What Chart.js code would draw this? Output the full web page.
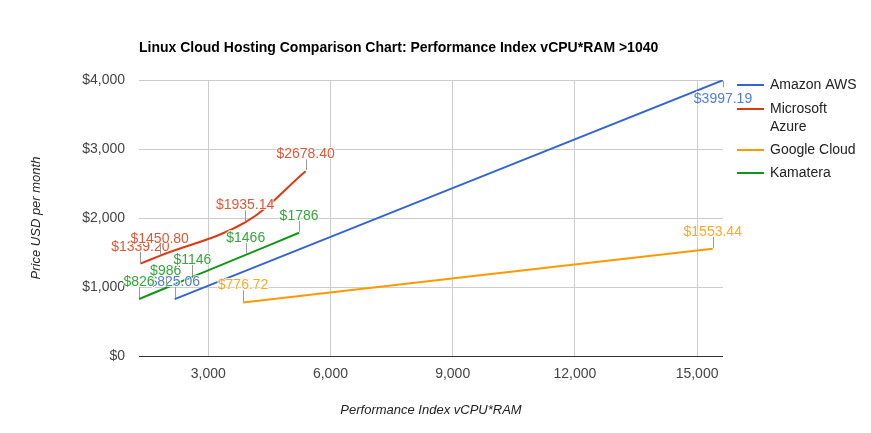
<!DOCTYPE html>
<html>
<head>
<meta charset="utf-8">
<script src="https://cdn.jsdelivr.net/npm/chart.js@4"></script>
<style>
  html, body { margin: 0; padding: 0; background: #fff; }
  #wrap { width: 871px; height: 433px; position: relative; }
</style>
</head>
<body>
<div id="wrap"><canvas id="hostingChart"></canvas></div>
<script>
// performance index (x) and monthly price (y) per provider
const awsX = [2176, 15637];
const awsY = [825.06, 3997.19];
const azureX = [1334, 1808, 3905, 5390];
const azureY = [1339.20, 1450.80, 1935.14, 2678.40];
const googleX = [3855, 15385];
const googleY = [776.72, 1553.44];
const kamateraX = [1300, 1955, 2610, 3920, 5230];
const kamateraY = [826, 986, 1146, 1466, 1786];

const seriesNames = ["Amazon AWS", "Microsoft Azure", "Google Cloud", "Kamatera"];
const seriesColors = ["#3366cc", "#dc3912", "#ff9900", "#109618"];
const labelDecimals = [2, 2, 2, 0];

const xTicks = [3000, 6000, 9000, 12000, 15000];
const yTicks = [0, 1000, 2000, 3000, 4000];

const FONT = "'Liberation Sans', Arial, sans-serif";

function points(xs, ys) {
    return xs.map((x, i) => ({ x: x, y: ys[i] }));
}

function money(v, d) {
    return "$" + v.toFixed(d);
}

// value labels with a little grey stem, like the original annotations
const annotations = {
    id: "annotations",
    afterDatasetsDraw(chart) {
        const ctx = chart.ctx;
        const area = chart.chartArea;
        ctx.save();
        ctx.font = "14px " + FONT;
        ctx.textAlign = "center";
        chart.data.datasets.forEach((ds, di) => {
            const meta = chart.getDatasetMeta(di);
            meta.data.forEach((pt, i) => {
                const text = money(ds.data[i].y, labelDecimals[di]);
                const below = pt.y - 28 < area.top;
                ctx.strokeStyle = "#999";
                ctx.lineWidth = 1;
                ctx.beginPath();
                if (below) {
                    ctx.moveTo(Math.round(pt.x) + 0.5, pt.y + 1);
                    ctx.lineTo(Math.round(pt.x) + 0.5, pt.y + 7);
                } else {
                    ctx.moveTo(Math.round(pt.x) + 0.5, pt.y - 1);
                    ctx.lineTo(Math.round(pt.x) + 0.5, pt.y - 12);
                }
                ctx.stroke();
                const ty = below ? pt.y + 19 : pt.y - 13;
                ctx.textBaseline = below ? "middle" : "alphabetic";
                ctx.lineWidth = 2;
                ctx.strokeStyle = "rgba(255,255,255,0.8)";
                ctx.strokeText(text, pt.x, ty);
                ctx.fillStyle = seriesColors[di];
                ctx.globalAlpha = 0.85;
                ctx.fillText(text, pt.x, ty);
                ctx.globalAlpha = 1;
            });
        });
        ctx.restore();
    }
};

// title on the left and the legend on the right
const decorations = {
    id: "decorations",
    afterDraw(chart) {
        const ctx = chart.ctx;
        ctx.save();
        ctx.fillStyle = "#000";
        ctx.font = "bold 14px " + FONT;
        ctx.textAlign = "left";
        ctx.textBaseline = "middle";
        ctx.fillText("Linux Cloud Hosting Comparison Chart: Performance Index vCPU*RAM >1040", 139, 48);

        const rows = [[85], [109, 127], [150], [173]];
        const lines = [["Amazon AWS"], ["Microsoft", "Azure"], ["Google Cloud"], ["Kamatera"]];
        ctx.font = "14px " + FONT;
        rows.forEach((ys, i) => {
            ctx.strokeStyle = seriesColors[i];
            ctx.lineWidth = 2;
            ctx.beginPath();
            ctx.moveTo(737, ys[0]);
            ctx.lineTo(764, ys[0]);
            ctx.stroke();
            ctx.fillStyle = "#222";
            lines[i].forEach((t, j) => ctx.fillText(t, 770, ys[j]));
        });
        ctx.restore();
    }
};

const datasets = [
    points(awsX, awsY),
    points(azureX, azureY),
    points(googleX, googleY),
    points(kamateraX, kamateraY)
].map((data, i) => ({
    label: seriesNames[i],
    data: data,
    borderColor: seriesColors[i],
    backgroundColor: seriesColors[i],
    borderWidth: 2,
    pointRadius: 0,
    tension: 0.35,
    fill: false
}));

new Chart(document.getElementById("hostingChart"), {
    type: "line",
    data: { datasets: datasets },
    plugins: [annotations, decorations],
    options: {
        responsive: true,
        maintainAspectRatio: false,
        animation: false,
        layout: { padding: { left: 0, top: 80, right: 148, bottom: 0 } },
        plugins: {
            legend: { display: false },
            title: { display: false },
            tooltip: { enabled: false }
        },
        scales: {
            x: {
                type: "linear",
                min: 1300,
                max: 15637,
                afterBuildTicks: (scale) => { scale.ticks = xTicks.map(v => ({ value: v })); },
                afterFit: (scale) => { scale.height = 77; },
                grid: { color: "#cccccc", drawTicks: false },
                border: { display: false },
                ticks: {
                    padding: 10,
                    color: "#444",
                    font: { family: FONT, size: 14 },
                    maxRotation: 0,
                    callback: (v) => v.toLocaleString("en-US")
                },
                title: {
                    display: true,
                    text: "Performance Index vCPU*RAM",
                    color: "#222",
                    font: { family: FONT, size: 13, style: "italic" },
                    padding: { top: 0, bottom: 15 }
                }
            },
            y: {
                min: 0,
                max: 4000,
                afterBuildTicks: (scale) => { scale.ticks = yTicks.map(v => ({ value: v })); },
                afterFit: (scale) => { scale.width = 139; },
                grid: {
                    color: (c) => c.tick && c.tick.value === 0 ? "#333333" : "#cccccc",
                    drawTicks: false
                },
                border: { display: false },
                ticks: {
                    padding: 14,
                    color: "#444",
                    font: { family: FONT, size: 14 },
                    callback: (v) => "$" + v.toLocaleString("en-US")
                },
                title: {
                    display: true,
                    text: "Price USD per month",
                    color: "#222",
                    font: { family: FONT, size: 13, style: "italic" },
                    padding: { top: 29, bottom: 0 }
                }
            }
        }
    }
});
</script>
</body>
</html>
